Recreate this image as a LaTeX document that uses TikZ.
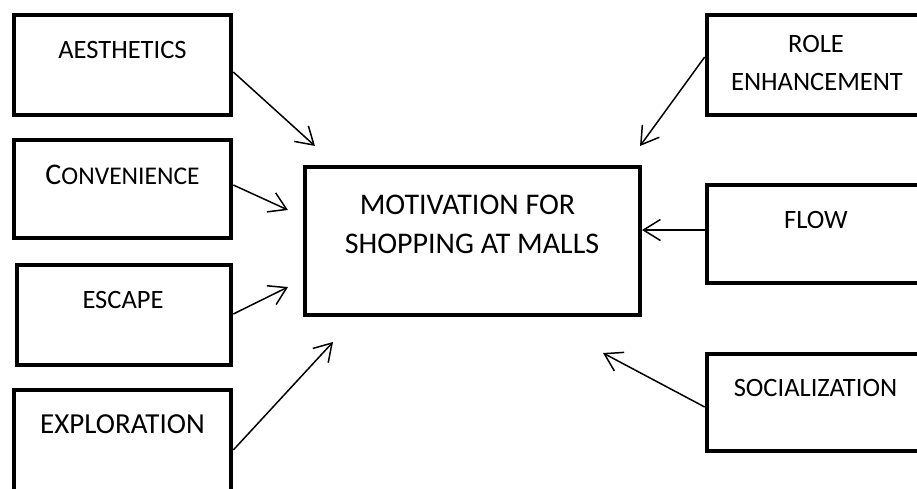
\documentclass[tikz,border=0pt]{standalone}
\usepackage{fontspec}
\setmainfont{Carlito}
\usetikzlibrary{arrows.meta,calc}
\begin{document}
\begin{tikzpicture}[x=1pt,y=-1pt,
  bx/.style={draw, line width=4.6pt, inner sep=0pt, minimum width=217pt, minimum height=100pt},
  lbl/.style={anchor=base, inner sep=0pt, font=\fontsize{26.5}{31}\selectfont},
  arr/.style={line width=1.5pt, -{Straight Barb[length=17pt,width=21pt,line width=1.5pt]}}]
\clip (0,0) rectangle (917,488);
% left boxes
\node[bx] (aes) at (122.5,65) {};
\node[bx, minimum height=98pt] (conv) at (122.5,189) {};
\node[bx, minimum width=214pt] (esc) at (124,315) {};
\node[bx, minimum height=106pt] (expl) at (122.5,443) {};
% centre
\node[bx, minimum width=335pt, minimum height=148pt] (main) at (472.5,241) {};
% right boxes
\node[bx, minimum width=228pt] (role) at (821,65) {};
\node[bx, minimum width=228pt, minimum height=98pt] (flow) at (821,234) {};
\node[bx, minimum width=228pt, minimum height=97pt] (soc) at (821,402.5) {};
% texts
\node[lbl] (taes) at (122.5,58) {AESTHETICS};
\node[lbl] (tconv) at (122.5,184) {{\fontsize{30}{31}\selectfont C}{\fontsize{25.5}{31}\selectfont ONVENIENCE}};
\node[lbl] (tesc) at (123,308) {ESCAPE};
\node[lbl, font=\fontsize{29}{34}\selectfont] (texpl) at (122.5,433) {EXPLORATION};
\node[lbl, font=\fontsize{30}{34}\selectfont] (tmain1) at (467.5,214) {MOTIVATION FOR};
\node[lbl, font=\fontsize{30}{34}\selectfont] (tmain2) at (472,253) {SHOPPING AT MALLS};
\node[lbl] (trole1) at (816,52) {ROLE};
\node[lbl] (trole2) at (817,90) {ENHANCEMENT};
\node[lbl] (tflow) at (816,228) {FLOW};
\node[lbl] (tsoc) at (815.5,396) {SOCIALIZATION};
% arrow ends
\coordinate (eaes) at (315,146);
\coordinate (econv) at (288,210);
\coordinate (eesc) at (288,287);
\coordinate (eexpl) at (333,342);
\coordinate (erole) at (640,146);
\coordinate (eflow) at (642,230);
\coordinate (esoc) at (603,353);
\draw[arr] ($(aes.east)+(0,7)$) -- (eaes);
\draw[arr] ($(conv.east)+(0,-4)$) -- (econv);
\draw[arr] ($(esc.east)+(0,-1)$) -- (eesc);
\draw[arr] ($(expl.east)+(0,7)$) -- (eexpl);
\draw[arr] ($(role.west)+(0,-8)$) -- (erole);
\draw[arr] ($(flow.west)+(0,-4)$) -- (eflow);
\draw[arr] ($(soc.west)+(0,4.5)$) -- (esoc);
\end{tikzpicture}
\end{document}
